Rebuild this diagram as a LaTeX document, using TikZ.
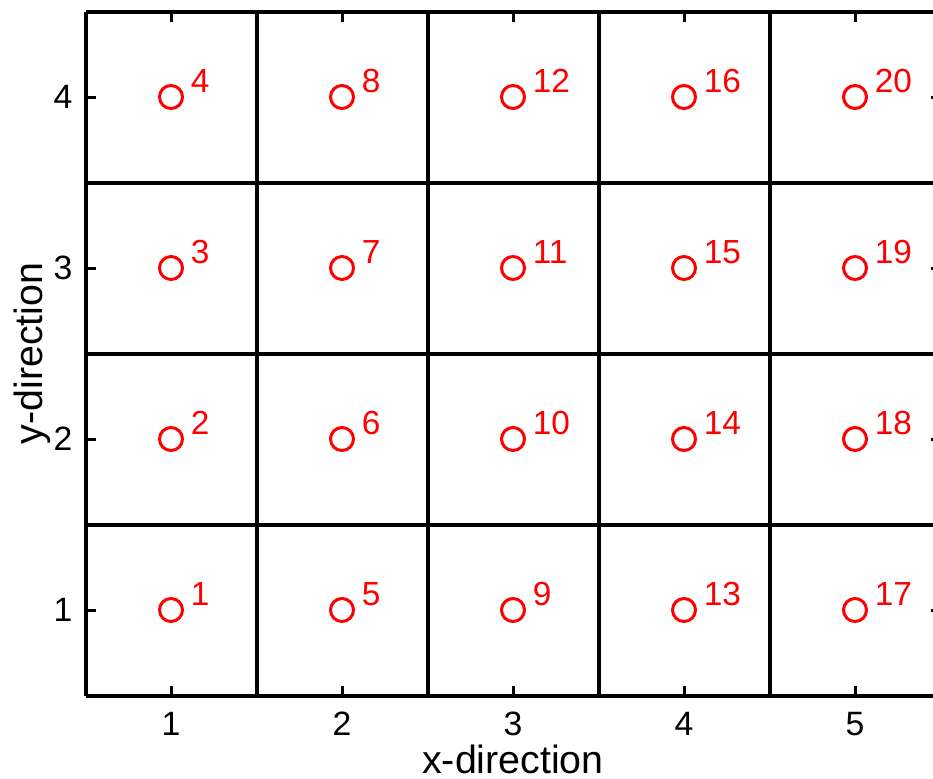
\documentclass[tikz,border=0pt]{standalone}
\usepackage{fontspec}
\setmainfont{Liberation Sans}
\begin{document}
\begin{tikzpicture}[x=1.71cm,y=1.71cm,
  gridline/.style={line width=0.04cm,black},
  tickmark/.style={line width=0.03cm,black},
  pt/.style={circle,draw=red,line width=0.03cm,minimum size=0.23cm,inner sep=0pt},
  ptlabel/.style={anchor=base west,inner sep=0pt,text=red,font=\fontsize{9.5}{11}\selectfont},
  ticklabel/.style={font=\fontsize{9.6}{11}\selectfont,inner sep=0pt},
  axlabel/.style={font=\fontsize{11.2}{13}\selectfont,inner sep=0pt}]
\useasboundingbox (0,0.01754) rectangle (5.4561,4.5673);
\clip (0,0.01754) rectangle (5.4561,4.5673);
\fill[white] (0,0.01754) rectangle (5.4561,4.5673);
% grid
\foreach \i in {0.5,1.5,2.5,3.5,4.5}
  \draw[gridline] (\i,0.5) -- (\i,4.5);
\draw[gridline] (5.5,0.5) -- (5.5,4.5);
\foreach \j in {0.5,1.5,2.5,3.5,4.5}
  \draw[gridline] (0.5,\j) -- (5.6,\j);
% ticks
\foreach \i in {1,...,5} {
  \draw[tickmark] (\i,0.5) -- (\i,0.5585);
  \draw[tickmark] (\i,4.5) -- (\i,4.4415);
  \node[ticklabel] (xt\i) at (\i,0.335) {\i};
}
\foreach \j in {1,...,4} {
  \draw[tickmark] (0.5,\j) -- (0.5585,\j);
  \draw[tickmark] (5.5,\j) -- (5.4415,\j);
  \node[ticklabel,anchor=east] (yt\j) at (0.427,\j) {\j};
}
% points
\foreach \i in {1,...,5} {
  \foreach \j in {1,...,4} {
    \pgfmathtruncatemacro{\n}{(\i-1)*4+\j}
    \node[pt] (c\n) at (\i,\j) {};
    \node[ptlabel] (l\n) at ([shift={(0.112,0.025)}]c\n.center) {\n};
  }
}
% axis labels
\node[axlabel,anchor=base] (xl) at (3,0.045) {x-direction};
\node[axlabel,anchor=base,rotate=90] (yl) at (0.25,2.5) {y-direction};
\end{tikzpicture}
\end{document}
